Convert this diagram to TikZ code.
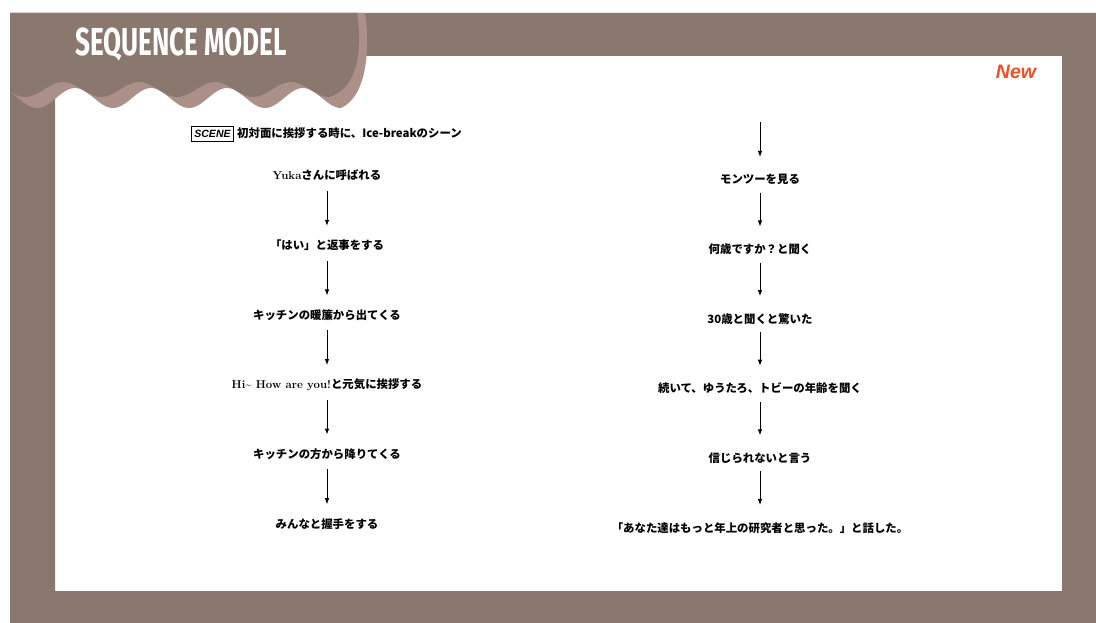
\documentclass[tikz,border=0pt]{standalone}
\usepackage{fontspec}
\usetikzlibrary{arrows.meta}
\newfontfamily\jp{Noto Sans CJK JP}
\newfontfamily\titlefont{Fira Sans}
\newfontfamily\arialfont{Liberation Sans}
\definecolor{framebrown}{RGB}{138,119,110}
\definecolor{edgebrown}{RGB}{170,144,136}
\definecolor{newred}{RGB}{240,78,40}
\newcommand\ensr[1]{{\rmfamily\bfseries #1}}
\tikzset{
  stepnode/.style={font=\jp\bfseries\fontsize{11.4}{13}\selectfont, inner sep=0pt, text height=8pt, text depth=3pt},
  flowL/.style={-{Latex[length=6pt,width=4.5pt]}, line width=0.8pt, shorten <=7.7pt, shorten >=15.6pt},
  flowR/.style={-{Latex[length=6pt,width=4.5pt]}, line width=0.8pt, shorten <=5.7pt, shorten >=18.9pt}
}
\begin{document}
\begin{tikzpicture}[x=1pt,y=-1pt]
\useasboundingbox (0,0) rectangle (1096,623);
% frame
\fill[framebrown,even odd rule] (10,13) rectangle (1096,623) (55,56) rectangle (1062,591);
% tab light edge
\fill[edgebrown] (10,13) -- (365,13) .. controls (370,45) and (368,96) .. (341,108)
  -- plot[domain=341:10,samples=120] (\x,{98+10*cos(4.73684*(\x-37))}) -- cycle;
% tab dark
\fill[framebrown] (10,13) -- (357,13) .. controls (362,45) and (360,88) .. (329,97)
  -- plot[domain=329:10,samples=120] (\x,{89.5+7.5*cos(4.73684*(\x-25))}) -- cycle;
\node[text=white, inner sep=0pt] (title) at (181,45) {\titlefont\bfseries\fontsize{39}{40}\selectfont\scalebox{0.67}[1]{SEQUENCE MODEL}};
\node[text=newred, inner sep=0pt] (new) at (1016,72) {\arialfont\bfseries\itshape\fontsize{19.5}{21}\selectfont New};
% scene
\node[draw, line width=0.8pt, minimum width=42pt, minimum height=15pt, inner sep=0pt] (scene) at (212.5,133.5) {\arialfont\bfseries\itshape\fontsize{10.5}{12}\selectfont SCENE};
\node[stepnode, anchor=west] (scenetext) at (237,135.5) {初対面に挨拶する時に、Ice-breakのシーン};
% left column
\node[stepnode] (l1) at (327,177.5) {\ensr{Yuka}さんに呼ばれる};
\node[stepnode] (l2) at (327,247.1) {「はい」と返事をする};
\node[stepnode] (l3) at (327,316.7) {キッチンの暖簾から出てくる};
\node[stepnode] (l4) at (327,386.3) {\ensr{Hi\char`\~{} How are you!}と元気に挨拶する};
\node[stepnode] (l5) at (327,455.9) {キッチンの方から降りてくる};
\node[stepnode] (l6) at (327,525.5) {みんなと握手をする};
\draw[flowL] (l1) -- (l2);
\draw[flowL] (l2) -- (l3);
\draw[flowL] (l3) -- (l4);
\draw[flowL] (l4) -- (l5);
\draw[flowL] (l5) -- (l6);
% right column
\coordinate (rtop) at (760,116);
\node[stepnode] (r1) at (760,181.5) {モンツーを見る};
\node[stepnode] (r2) at (760,251.1) {何歳ですか？と聞く};
\node[stepnode] (r3) at (760,320.7) {30歳と聞くと驚いた};
\node[stepnode] (r4) at (760,390.3) {続いて、ゆうたろ、トビーの年齢を聞く};
\node[stepnode] (r5) at (760,459.9) {信じられないと言う};
\node[stepnode] (r6) at (760,529.5) {「あなた達はもっと年上の研究者と思った。」と話した。};
\draw[flowR] (rtop) -- (r1);
\draw[flowR] (r1) -- (r2);
\draw[flowR] (r2) -- (r3);
\draw[flowR] (r3) -- (r4);
\draw[flowR] (r4) -- (r5);
\draw[flowR] (r5) -- (r6);
\end{tikzpicture}
\end{document}
